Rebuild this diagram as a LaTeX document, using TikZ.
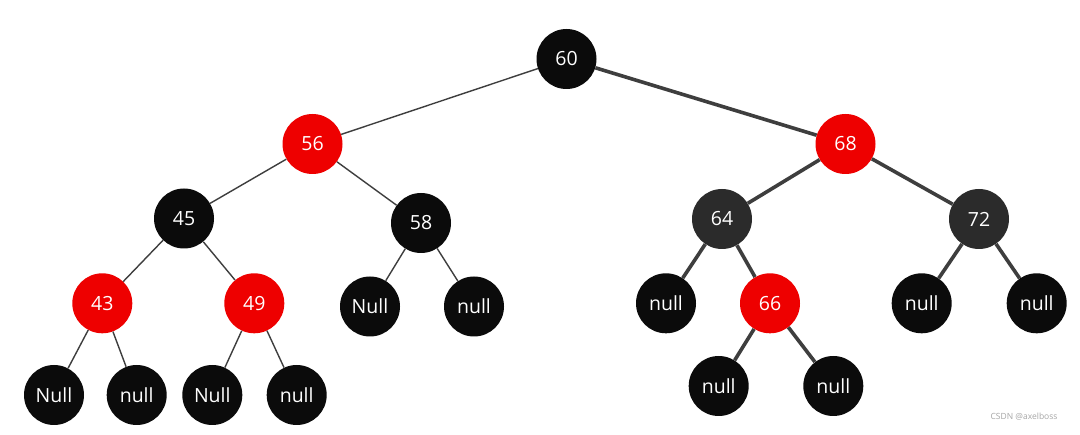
\documentclass[tikz,border=0pt]{standalone}
\usepackage{fontspec}
\setmainfont{Open Sans}
\definecolor{nblack}{HTML}{0B0B0B}
\definecolor{ngray}{HTML}{2B2B2B}
\definecolor{nred}{HTML}{EE0000}
\definecolor{edgec}{HTML}{3E3E3E}
\begin{document}
\begin{tikzpicture}[x=1pt,y=-1pt,
  rb/.style={circle,minimum size=60pt,inner sep=0pt,text=white,font=\fontsize{19.5}{22}\selectfont},
  blk/.style={rb,fill=nblack},
  gry/.style={rb,fill=ngray},
  red/.style={rb,fill=nred},
  thin/.style={draw=edgec,line width=1.4pt},
  thick/.style={draw=edgec,line width=3.6pt}]
\useasboundingbox (0,0) rectangle (1080,435);
\fill[white] (0,0) rectangle (1080,435);
\node[blk] (n60) at (566.5,59) {60};
\node[red] (n56) at (312.5,144) {56};
\node[red] (n68) at (845.5,144) {68};
\node[blk] (n45) at (184,218.5) {45};
\node[blk] (n58) at (421,223) {58};
\node[gry] (n64) at (722,219) {64};
\node[gry] (n72) at (979,219) {72};
\node[red] (n43) at (102.3,303.3) {43};
\node[red] (n49) at (254.3,303.3) {49};
\node[blk] (n58l) at (370,306.5) {Null};
\node[blk] (n58r) at (474,306.5) {null};
\node[blk] (n64l) at (666,303.3) {null};
\node[red] (n66) at (770,303.3) {66};
\node[blk] (n72l) at (921.7,303.3) {null};
\node[blk] (n72r) at (1036.7,303.3) {null};
\node[blk] (n43l) at (54,395) {Null};
\node[blk] (n43r) at (136.7,395) {null};
\node[blk] (n49l) at (212.3,395) {Null};
\node[blk] (n49r) at (296.7,395) {null};
\node[blk] (n66l) at (718.7,386) {null};
\node[blk] (n66r) at (833.3,386) {null};
\node[text=black!35,font=\fontsize{8.5}{10}\selectfont,anchor=east] (wm) at (1061,417) {CSDN @axelboss};
\path[thin] (n60) -- (n56);
\path[thick] (n60) -- (n68);
\path[thin] (n56) -- (n45);
\path[thin] (n56) -- (n58);
\path[thin] (n45) -- (n43);
\path[thin] (n45) -- (n49);
\path[thin] (n58) -- (n58l);
\path[thin] (n58) -- (n58r);
\path[thin] (n43) -- (n43l);
\path[thin] (n43) -- (n43r);
\path[thin] (n49) -- (n49l);
\path[thin] (n49) -- (n49r);
\path[thick] (n68) -- (n64);
\path[thick] (n68) -- (n72);
\path[thick] (n64) -- (n64l);
\path[thick] (n64) -- (n66);
\path[thick] (n72) -- (n72l);
\path[thick] (n72) -- (n72r);
\path[thick] (n66) -- (n66l);
\path[thick] (n66) -- (n66r);
\end{tikzpicture}
\end{document}
